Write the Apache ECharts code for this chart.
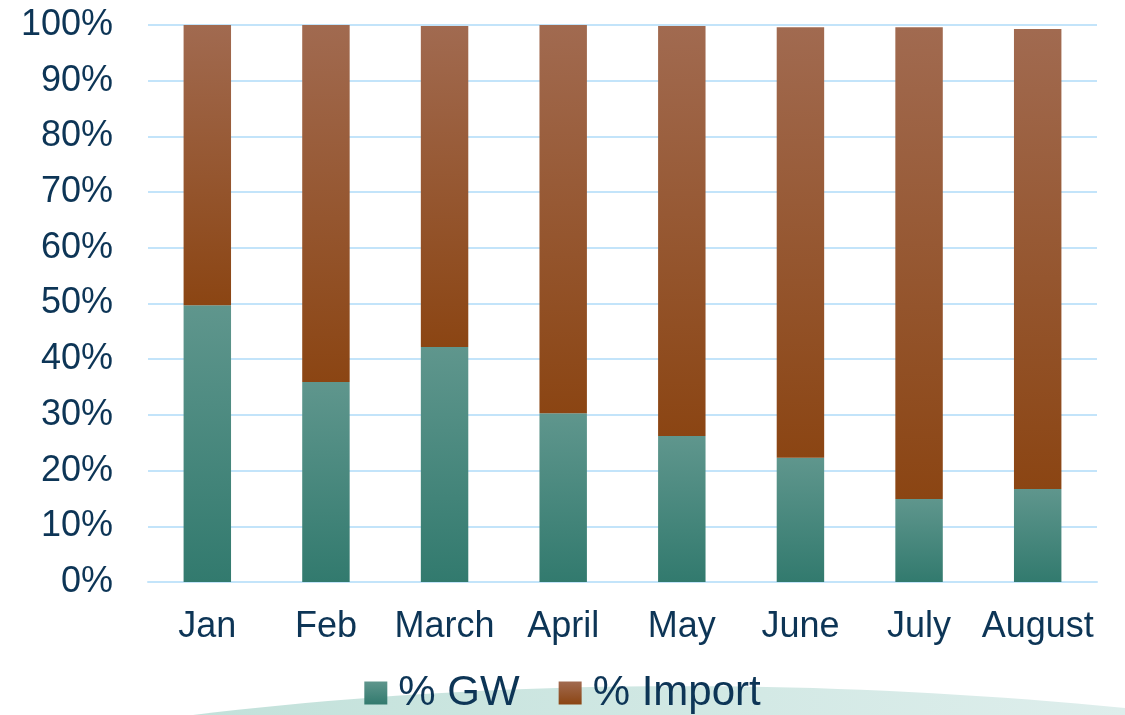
<!DOCTYPE html>
<html>
<head>
<meta charset="utf-8">
<title>GW vs Import</title>
<script src="https://cdn.jsdelivr.net/npm/echarts@6/dist/echarts.min.js"></script>
<style>
  html, body { margin: 0; padding: 0; background: #fff; }
  #chart { width: 1125px; height: 715px; }
</style>
</head>
<body>
<div id="chart"></div>
<script>
  // data (percent of total)
  var months = ['Jan', 'Feb', 'March', 'April', 'May', 'June', 'July', 'August']
  var gwShare = [49.7, 35.9, 42.2, 30.3, 26.2, 22.3, 14.9, 16.7]
  var importShare = [50.3, 64.1, 57.6, 69.7, 73.6, 77.3, 84.7, 82.6]
  var yTicks = [0, 10, 20, 30, 40, 50, 60, 70, 80, 90, 100]

  var textColor = '#0d3556'
  var font = '"Liberation Sans", Arial, sans-serif'

  function grad(c0, c1, horizontal) {
    return {
      type: 'linear',
      x: 0, y: 0,
      x2: horizontal ? 1 : 0,
      y2: horizontal ? 0 : 1,
      colorStops: [
        { offset: 0, color: c0 },
        { offset: 1, color: c1 }
      ]
    }
  }

  // outline of the slide's decorative swoosh at the bottom
  function swoosh() {
    var pts = []
    for (var i = 0; i <= 40; i++) {
      var t = i / 40
      var x = (1 - t) * (1 - t) * 193 + 2 * t * (1 - t) * 640 + t * t * 1125
      var y = (1 - t) * (1 - t) * 715 + 2 * t * (1 - t) * 661 + t * t * 708
      pts.push([x, y])
    }
    pts.push([1125, 715])
    return pts
  }

  var chart = echarts.init(document.getElementById('chart'))

  var option = {
    animation: false,
    backgroundColor: '#fff',
    textStyle: { fontFamily: font },
    grid: {
      top: 25,
      left: 148,
      right: 28,
      bottom: 133
    },
    graphic: [{
      type: 'polygon',
      z: -10,
      shape: { points: swoosh() },
      style: {
        fill: grad('#c2e1da', '#deeeec', true)
      }
    }],
    legend: {
      top: 672,
      left: 'center',
      padding: 0,
      itemWidth: 23,
      itemHeight: 23,
      itemGap: 39,
      icon: 'rect',
      textStyle: {
        color: textColor,
        fontSize: 42,
        fontFamily: font,
        padding: [0, 0, 0, 6]
      },
      data: ['% GW', '% Import']
    },
    xAxis: {
      type: 'category',
      data: months,
      axisTick: { show: false },
      axisLine: { lineStyle: { color: '#c3e4fa', width: 2 } },
      axisLabel: {
        interval: 0,
        color: textColor,
        fontSize: 36,
        fontFamily: font,
        margin: 27
      }
    },
    yAxis: {
      type: 'value',
      min: yTicks[0],
      max: yTicks[yTicks.length - 1],
      interval: 10,
      axisLine: { show: false },
      axisTick: { show: false },
      splitLine: { lineStyle: { color: '#c3e4fa', width: 2 } },
      axisLabel: {
        color: textColor,
        fontSize: 36,
        fontFamily: font,
        margin: 35,
        formatter: '{value}%'
      }
    },
    series: [{
      name: '% GW',
      type: 'bar',
      stack: 'total',
      barWidth: '40%',
      data: gwShare,
      itemStyle: { color: grad('#5f968d', '#327a6e') }
    }, {
      name: '% Import',
      type: 'bar',
      stack: 'total',
      barWidth: '40%',
      data: importShare,
      itemStyle: { color: grad('#a16a50', '#8b4513') }
    }]
  }

  chart.setOption(option)
</script>
</body>
</html>
